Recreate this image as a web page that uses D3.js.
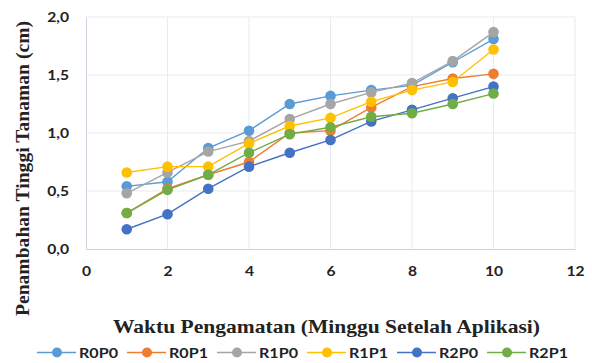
<!DOCTYPE html>
<html>
<head>
<meta charset="utf-8">
<script src="https://cdn.jsdelivr.net/npm/d3@7"></script>
<style>
  html, body { margin: 0; padding: 0; background: #fff; }
  svg { display: block; }
</style>
</head>
<body>
<svg id="chart" width="592" height="363"></svg>
<script>
// Observation weeks
const weeks = [1, 2, 3, 4, 5, 6, 7, 8, 9, 10];

// Height increase (cm) for each treatment
const R0P0 = [0.54, 0.58, 0.87, 1.02, 1.25, 1.32, 1.37, 1.41, 1.61, 1.81];
const R0P1 = [0.31, 0.52, 0.64, 0.75, 1.00, 1.02, 1.22, 1.40, 1.47, 1.51];
const R1P0 = [0.48, 0.66, 0.84, 0.93, 1.12, 1.25, 1.35, 1.43, 1.62, 1.87];
const R1P1 = [0.66, 0.71, 0.71, 0.91, 1.06, 1.13, 1.27, 1.37, 1.44, 1.72];
const R2P0 = [0.17, 0.30, 0.52, 0.71, 0.83, 0.94, 1.10, 1.20, 1.30, 1.40];
const R2P1 = [0.31, 0.51, 0.64, 0.83, 0.99, 1.05, 1.14, 1.17, 1.25, 1.34];

const seriesNames = ["R0P0", "R0P1", "R1P0", "R1P1", "R2P0", "R2P1"];
const seriesValues = [R0P0, R0P1, R1P0, R1P1, R2P0, R2P1];
const seriesColors = ["#5B9BD5", "#ED7D31", "#A5A5A5", "#FFC000", "#4472C4", "#70AD47"];

const xTicks = [0, 2, 4, 6, 8, 10, 12];
const yTicks = [0, 0.5, 1.0, 1.5, 2.0];

const svg = d3.select("#chart");
const plotLeft = 86, plotRight = 575, plotTop = 17, plotBottom = 249;

const x = d3.scaleLinear().domain([0, 12]).range([plotLeft, plotRight]);
const y = d3.scaleLinear().domain([0, 2]).range([plotBottom, plotTop]);

const gridColor = "#e8ebf0";
const axisColor = "#cdd4de";
const sansFont = "Lato, 'Open Sans', sans-serif";
const serifFont = "'Liberation Serif', 'Times New Roman', serif";

// Widen text glyphs horizontally by a factor
function widen(sel, factor) {
  sel.each(function () {
    const w = this.getComputedTextLength();
    d3.select(this).attr("textLength", w * factor).attr("lengthAdjust", "spacingAndGlyphs");
  });
}

// Gridlines
svg.append("g")
  .selectAll("line")
  .data(yTicks.filter(d => d > 0))
  .join("line")
  .attr("x1", plotLeft).attr("x2", plotRight)
  .attr("y1", d => y(d)).attr("y2", d => y(d))
  .attr("stroke", gridColor).attr("stroke-width", 1);

svg.append("g")
  .selectAll("line")
  .data(xTicks.filter(d => d > 0))
  .join("line")
  .attr("x1", d => x(d)).attr("x2", d => x(d))
  .attr("y1", plotTop).attr("y2", plotBottom)
  .attr("stroke", gridColor).attr("stroke-width", 1);

// Axes
const yAxis = d3.axisLeft(y).tickValues(yTicks).tickSize(0).tickPadding(17)
  .tickFormat(d => d3.format(".1f")(d).replace(".", ","));
const gy = svg.append("g").attr("transform", `translate(${plotLeft},0)`).call(yAxis);
gy.select(".domain").attr("stroke", axisColor);
gy.selectAll("text").attr("font-family", sansFont).attr("font-weight", "bold")
  .attr("font-size", 12.5).attr("fill", "#222").call(widen, 1.25);

const xAxis = d3.axisBottom(x).tickValues(xTicks).tickSize(0).tickPadding(18);
const gx = svg.append("g").attr("transform", `translate(0,${plotBottom})`).call(xAxis);
gx.select(".domain").attr("stroke", axisColor);
gx.selectAll("text").attr("font-family", sansFont).attr("font-weight", "bold")
  .attr("font-size", 12.5).attr("fill", "#222").call(widen, 1.25);

// Series lines and markers
const line = d3.line().x((d, i) => x(weeks[i])).y(d => y(d));
seriesValues.forEach((vals, k) => {
  const g = svg.append("g");
  g.append("path").datum(vals)
    .attr("d", line)
    .attr("fill", "none")
    .attr("stroke", seriesColors[k])
    .attr("stroke-width", 1.4);
  g.selectAll("circle").data(vals).join("circle")
    .attr("cx", (d, i) => x(weeks[i]))
    .attr("cy", d => y(d))
    .attr("r", 5.3)
    .attr("fill", seriesColors[k]);
});

// Axis titles
svg.append("text")
  .attr("transform", "translate(29,168.5) rotate(-90)")
  .attr("text-anchor", "middle")
  .attr("font-family", serifFont)
  .attr("font-weight", "bold").attr("font-size", 18)
  .attr("fill", "#222")
  .attr("textLength", 295).attr("lengthAdjust", "spacingAndGlyphs")
  .text("Penambahan Tinggi Tanaman (cm)");

svg.append("text")
  .attr("x", 326.5).attr("y", 333)
  .attr("text-anchor", "middle")
  .attr("font-family", serifFont)
  .attr("font-weight", "bold").attr("font-size", 19.5)
  .attr("fill", "#222")
  .attr("textLength", 427).attr("lengthAdjust", "spacingAndGlyphs")
  .text("Waktu Pengamatan (Minggu Setelah Aplikasi)");

// Legend
const legend = svg.append("g");
seriesNames.forEach((name, k) => {
  const cx = 57 + k * 90;
  const ly = 352.5;
  const item = legend.append("g");
  item.append("line")
    .attr("x1", cx - 20).attr("x2", cx + 19)
    .attr("y1", ly).attr("y2", ly)
    .attr("stroke", seriesColors[k]).attr("stroke-width", 1.4);
  item.append("circle")
    .attr("cx", cx).attr("cy", ly).attr("r", 5)
    .attr("fill", seriesColors[k]);
  item.append("text")
    .attr("x", cx + 22).attr("y", 358)
    .attr("font-family", sansFont).attr("font-weight", "bold")
    .attr("font-size", 14).attr("fill", "#222")
    .attr("textLength", 39).attr("lengthAdjust", "spacingAndGlyphs")
    .text(name);
});
</script>
</body>
</html>
